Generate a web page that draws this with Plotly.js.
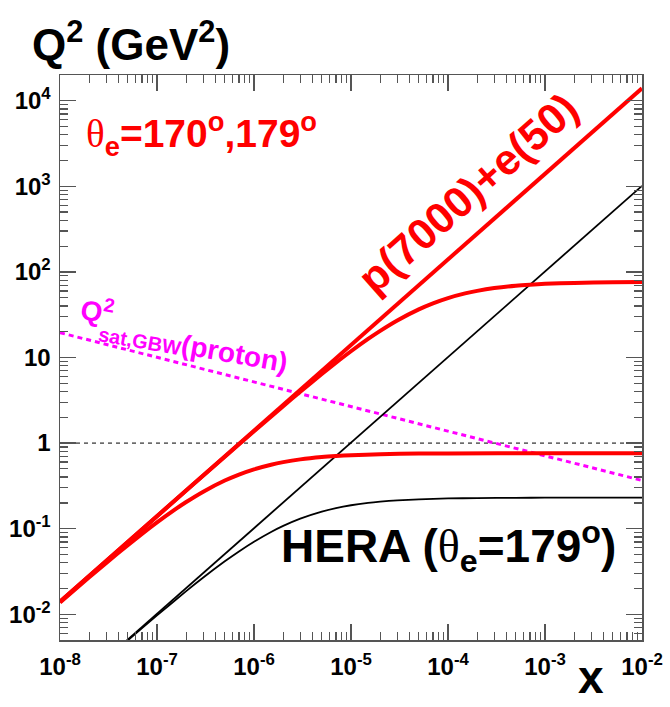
<!DOCTYPE html>
<html>
<head>
<meta charset="utf-8">
<script src="https://cdn.plot.ly/plotly-3.0.1.min.js"></script>
<style>body{margin:0;background:#fff;} #chart{width:670px;height:707px;}</style>
</head>
<body>
<div id="chart"></div>
<script>
// ---------------- data ----------------
// kinematic limit y=1 : straight lines
const xLimit = [1e-8, 1e-2];
const q2LimitLHeC = [0.014, 14000];     // p(7000)+e(50)
const q2LimitHERA = [0.001012, 1012];   // HERA

// p(7000)+e(50), theta_e = 170 deg
const x170 = [1e-8, 1e-7, 5e-7, 1e-6, 2e-6, 3e-6, 5e-6, 7e-6, 1e-5, 1.5e-5, 2e-5, 3e-5, 5e-5, 7e-5,
              1e-4, 1.5e-4, 2e-4, 3e-4, 5e-4, 7e-4, 1e-3, 2e-3, 5e-3, 1e-2];
const q2_170 = [0.014, 0.1397, 0.6937, 1.375, 2.701, 3.981, 6.413, 8.687, 11.83, 16.48, 20.50, 27.11, 36.55, 42.96,
                49.47, 56.07, 60.08, 64.71, 68.96, 70.96, 72.54, 74.47, 75.67, 76.08];

// p(7000)+e(50), theta_e = 179 deg
const x179 = [1e-8, 2e-8, 3e-8, 5e-8, 7e-8, 1e-7, 1.5e-7, 2e-7, 3e-7, 5e-7, 7e-7, 1e-6, 1.5e-6, 2e-6,
              3e-6, 5e-6, 7e-6, 1e-5, 2e-5, 5e-5, 1e-4, 1e-3, 1e-2];
const q2_179 = [0.01375, 0.02701, 0.03981, 0.06411, 0.08683, 0.1183, 0.1646, 0.2047, 0.2707, 0.3648, 0.4286, 0.4933, 0.5589, 0.5987,
                0.6447, 0.6869, 0.7067, 0.7223, 0.7414, 0.7534, 0.7575, 0.7612, 0.7616];

// HERA, theta_e = 179 deg
const xHera = [1e-8, 5e-8, 1e-7, 2e-7, 3e-7, 5e-7, 7e-7, 1e-6, 1.5e-6, 2e-6, 3e-6, 5e-6, 7e-6, 1e-5,
               1.5e-5, 2e-5, 3e-5, 5e-5, 1e-4, 2e-4, 5e-4, 1e-3, 1e-2];
const q2Hera = [0.001008, 0.004951, 0.009694, 0.01861, 0.02683, 0.04149, 0.05418, 0.07031, 0.09151, 0.1077, 0.1310, 0.1583, 0.1739, 0.1877,
                0.2000, 0.2068, 0.2141, 0.2204, 0.2253, 0.2278, 0.2293, 0.2299, 0.2303];

// saturation scale Q^2_sat,GBW(proton)
const xSat = [1e-8, 1e-2];
const q2Sat = [19.5, 0.366];

// reference line Q^2 = 1
const xOne = [1e-8, 1e-2];
const q2One = [1, 1];

// tick labels
const xTickVals = [1e-8, 1e-7, 1e-6, 1e-5, 1e-4, 1e-3, 1e-2];
const xTickText = ['10<sup>-8</sup>', '10<sup>-7</sup>', '10<sup>-6</sup>', '10<sup>-5</sup>', '10<sup>-4</sup>', '10<sup>-3</sup>', '10<sup>-2</sup>'];
const yTickVals = [1e-2, 1e-1, 1, 10, 100, 1e3, 1e4];
const yTickText = ['10<sup>-2</sup>', '10<sup>-1</sup>', '1', '10', '10<sup>2</sup>', '10<sup>3</sup>', '10<sup>4</sup>'];

// ---------------- helpers ----------------
function minorTicks(lo, hi) {
  const out = [];
  for (let e = lo; e < hi; e++) for (let m = 2; m <= 9; m++) out.push(m * Math.pow(10, e));
  return out;
}
const W = 670, H = 707, L = 60, R = 28, T = 75, B = 67;
const pw = W - L - R, ph = H - T - B;
const PX = v => (v - L) / pw;          // pixel -> paper x
const PY = v => (H - B - v) / ph;      // pixel -> paper y

const FONT = 'Liberation Sans, Arial, Helvetica, sans-serif';
const THETA = `<span style="font-family:'Liberation Serif';font-weight:normal">θ</span>`;

const traces = [
  {x: xOne, y: q2One, mode: 'lines', line: {color: '#000', width: 1, dash: '4px,4px'}},
  {x: xSat, y: q2Sat, mode: 'lines', line: {color: '#ff00ff', width: 3, dash: '5px,4px'}},
  {x: xLimit, y: q2LimitHERA, mode: 'lines', line: {color: '#000', width: 1.8}},
  {x: xHera, y: q2Hera, mode: 'lines', line: {color: '#000', width: 1.8, shape: 'spline', smoothing: 0.6}},
  {x: xLimit, y: q2LimitLHeC, mode: 'lines', line: {color: '#ff0000', width: 4}},
  {x: x170, y: q2_170, mode: 'lines', line: {color: '#ff0000', width: 4, shape: 'spline', smoothing: 0.6}},
  {x: x179, y: q2_179, mode: 'lines', line: {color: '#ff0000', width: 4, shape: 'spline', smoothing: 0.6}}
];

const axisCommon = {
  type: 'log',
  showgrid: false, zeroline: false,
  showline: true, linecolor: '#555', linewidth: 1.5,
  mirror: 'allticks',
  ticks: 'inside', ticklen: 16, tickwidth: 1.3, tickcolor: '#555',
  tickmode: 'array',
  tickfont: {family: FONT, size: 24, color: '#000', weight: 700}
};

const layout = {
  width: W, height: H,
  margin: {l: L, r: R, t: T, b: B},
  paper_bgcolor: '#fff', plot_bgcolor: '#fff',
  showlegend: false, hovermode: false,
  xaxis: Object.assign({}, axisCommon, {
    range: [-8, -2],
    tickvals: xTickVals, ticktext: xTickText,
    ticklabelstandoff: 5,
    minor: {tickmode: 'array', tickvals: minorTicks(-8, -2), ticks: 'inside', ticklen: 8, tickwidth: 1.3, tickcolor: '#555', showgrid: false}
  }),
  yaxis: Object.assign({}, axisCommon, {
    range: [Math.log10(0.005), Math.log10(2e4)],
    tickvals: yTickVals, ticktext: yTickText,
    ticklabelstandoff: 3,
    minor: {tickmode: 'array', tickvals: minorTicks(-3, 5), ticks: 'inside', ticklen: 8, tickwidth: 1.3, tickcolor: '#555', showgrid: false}
  }),
  annotations: [
    {text: 'Q<sup>2</sup> (GeV<sup>2</sup>)', xref: 'paper', yref: 'paper', x: PX(131), y: PY(41),
     xanchor: 'center', yanchor: 'middle', showarrow: false,
     font: {family: FONT, size: 44, color: '#000', weight: 700}},
    {text: 'x', xref: 'paper', yref: 'paper', x: PX(591), y: PY(705),
     xanchor: 'center', yanchor: 'bottom', showarrow: false,
     font: {family: FONT, size: 46, color: '#000', weight: 700}},
    {text: THETA + '<sub>e</sub>=170<sup>o</sup>,179<sup>o</sup>', xref: 'paper', yref: 'paper', x: PX(201), y: PY(134),
     xanchor: 'center', yanchor: 'middle', showarrow: false,
     font: {family: FONT, size: 39, color: '#ff0000', weight: 700}},
    {text: 'p(7000)+e(50)', xref: 'paper', yref: 'paper', x: PX(468), y: PY(193), textangle: -41.5,
     xanchor: 'center', yanchor: 'middle', showarrow: false,
     font: {family: FONT, size: 43, color: '#ff0000', weight: 700}},
    {text: 'Q<sup>2</sup>', xref: 'paper', yref: 'paper', x: PX(97), y: PY(310), textangle: 10,
     xanchor: 'center', yanchor: 'middle', showarrow: false,
     font: {family: FONT, size: 28, color: '#ff00ff', weight: 700}},
    {text: 'sat,GBW', xref: 'paper', yref: 'paper', x: PX(139), y: PY(341), textangle: 10,
     xanchor: 'center', yanchor: 'middle', showarrow: false,
     font: {family: FONT, size: 20, color: '#ff00ff', weight: 700}},
    {text: '(proton)', xref: 'paper', yref: 'paper', x: PX(234), y: PY(353), textangle: 10,
     xanchor: 'center', yanchor: 'middle', showarrow: false,
     font: {family: FONT, size: 28, color: '#ff00ff', weight: 700}},
    {text: 'HERA (' + THETA + '<sub>e</sub>=179<sup>o</sup>)', xref: 'paper', yref: 'paper', x: PX(448), y: PY(546),
     xanchor: 'center', yanchor: 'middle', showarrow: false,
     font: {family: FONT, size: 46, color: '#000', weight: 700}}
  ]
};

Plotly.newPlot('chart', traces, layout, {staticPlot: true, displayModeBar: false});
</script>
</body>
</html>
